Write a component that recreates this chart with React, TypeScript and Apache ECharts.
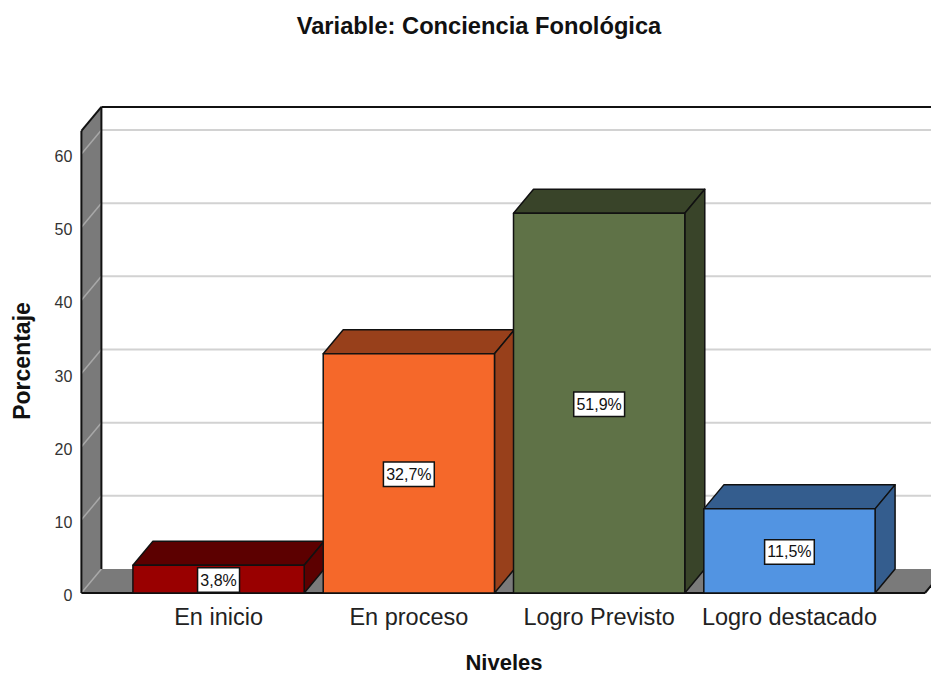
import React, { useEffect, useRef } from "react";
import * as echarts from "echarts";

const categories = ["En inicio", "En proceso", "Logro Previsto", "Logro destacado"];
const percentages = [3.8, 32.7, 51.9, 11.5];
const barLabels = ["3,8%", "32,7%", "51,9%", "11,5%"];
const frontColors = ["#990000", "#F5682A", "#5F7247", "#5294E2"];
const topColors = ["#5C0000", "#98401B", "#394429", "#345D8E"];
const yTicks = [0, 10, 20, 30, 40, 50, 60];

const FONT = "'Liberation Sans', Arial, sans-serif";
const DX = 20;
const DY = 24;
const WALL_TOP = 63.15;
const Y_OFFSET = 42;
const BLACK = "#111111";

function renderWalls(params: any, api: any) {
  const cs = params.coordSys;
  const x0 = cs.x - Y_OFFSET;
  const yFloor = api.coord([0, 0])[1];
  const yTop = api.coord([0, WALL_TOP])[1];
  const xEnd = 925;
  const line = (x1: number, y1: number, x2: number, y2: number, stroke: string, w: number) => ({
    type: "line",
    shape: { x1, y1, x2, y2 },
    style: { stroke, lineWidth: w },
  });
  const children: any[] = [
    { type: "rect", shape: { x: x0 + DX, y: yTop - DY, width: xEnd + DX - x0, height: yFloor - yTop }, style: { fill: "#ffffff" } },
    { type: "polygon", shape: { points: [[x0, yTop], [x0 + DX, yTop - DY], [x0 + DX, yFloor - DY], [x0, yFloor]] }, style: { fill: "#7A7A7A" } },
    { type: "polygon", shape: { points: [[x0, yFloor], [x0 + DX, yFloor - DY], [xEnd + DX, yFloor - DY], [xEnd, yFloor]] }, style: { fill: "#7A7A7A" } },
  ];
  yTicks.forEach((t) => {
    const y = api.coord([0, t])[1];
    children.push(line(x0, y, x0 + DX, y - DY, "#A8A8A8", 1.5));
    if (t > 0) children.push(line(x0 + DX, y - DY, xEnd + DX, y - DY, "#D2D2D2", 2));
  });
  children.push(
    line(x0, yTop, x0, yFloor, BLACK, 2),
    line(x0, yTop, x0 + DX, yTop - DY, BLACK, 2),
    line(x0 + DX, yTop - DY, x0 + DX, yFloor - DY, BLACK, 2),
    line(x0 + DX, yTop - DY, xEnd + DX, yTop - DY, BLACK, 2),
    line(x0, yFloor, xEnd, yFloor, BLACK, 2),
    line(xEnd, yFloor, xEnd + DX, yFloor - DY, BLACK, 2),
  );
  return { type: "group", children };
}

function renderBar(params: any, api: any) {
  const i = api.value(0);
  const v = api.value(1);
  const [cx, yT] = api.coord([i, v]);
  const yB = api.coord([i, 0])[1];
  const w = api.size([1, 0])[0] * 0.9;
  const xL = cx - w / 2;
  const xR = cx + w / 2;
  const edge = { stroke: BLACK, lineWidth: 1.5, lineJoin: "round" };
  return {
    type: "group",
    children: [
      { type: "polygon", shape: { points: [[xL, yT], [xL + DX, yT - DY], [xR + DX, yT - DY], [xR, yT]] }, style: { fill: topColors[i], ...edge } },
      { type: "polygon", shape: { points: [[xR, yT], [xR + DX, yT - DY], [xR + DX, yB - DY], [xR, yB]] }, style: { fill: topColors[i], ...edge } },
      { type: "rect", shape: { x: xL, y: yT, width: w, height: yB - yT }, style: { fill: frontColors[i], ...edge } },
      {
        type: "text",
        x: cx,
        y: (yT + yB) / 2 + 1,
        style: {
          text: barLabels[i],
          fill: "#111111",
          font: `16px ${FONT}`,
          align: "center",
          verticalAlign: "middle",
          backgroundColor: "#ffffff",
          borderColor: "#111111",
          borderWidth: 1.5,
          padding: [4, 2, 3, 2],
        },
      },
    ],
  };
}

export default function App() {
  const ref = useRef<HTMLDivElement>(null);
  useEffect(() => {
    document.body.style.margin = "0";
    document.body.style.overflow = "hidden";
    const chart = echarts.init(ref.current!, null, { renderer: "svg" });
    chart.setOption({
      animation: false,
      backgroundColor: "#ffffff",
      title: {
        text: "Variable: Conciencia Fonológica",
        left: 474,
        top: 9,
        textAlign: "center",
        textStyle: { fontFamily: FONT, fontSize: 23.7, fontWeight: "bold", color: "#111111" },
      },
      grid: { left: 123.4, top: 154, width: 761.2, height: 439, outerBoundsMode: "none" },
      xAxis: {
        type: "category",
        data: categories,
        name: "Niveles",
        nameLocation: "middle",
        nameGap: 58,
        nameTextStyle: { fontFamily: FONT, fontSize: 22, fontWeight: "bold", color: "#111111" },
        axisLine: { show: false },
        axisTick: { show: false },
        axisLabel: { fontFamily: FONT, fontSize: 23.5, color: "#222222", margin: 12, interval: 0 },
      },
      yAxis: {
        type: "value",
        min: 0,
        max: 60,
        interval: 10,
        offset: Y_OFFSET,
        name: "Porcentaje",
        nameLocation: "middle",
        nameGap: 48,
        nameTextStyle: { fontFamily: FONT, fontSize: 23, fontWeight: "bold", color: "#111111", padding: [0, 0, 0, 25] },
        axisLine: { show: false },
        axisTick: { show: false },
        splitLine: { show: false },
        axisLabel: {
          margin: 9,
          formatter: "{t|{value}}",
          rich: { t: { fontFamily: FONT, fontSize: 16, color: "#333333", padding: [5, 0, 0, 0] } },
        },
      },
      series: [
        { type: "custom", z: 1, silent: true, clip: false, renderItem: renderWalls, data: [[0, 0]], encode: { x: 0, y: 1 } },
        {
          type: "custom",
          z: 3,
          clip: false,
          renderItem: renderBar,
          data: percentages.map((p, i) => [i, p]),
          encode: { x: 0, y: 1 },
        },
      ],
    });
    return () => chart.dispose();
  }, []);
  return <div ref={ref} style={{ width: 931, height: 673 }} />;
}
